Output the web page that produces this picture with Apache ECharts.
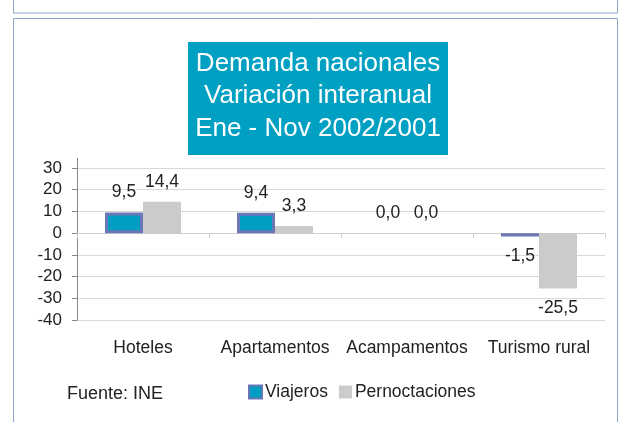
<!DOCTYPE html>
<html>
<head>
<meta charset="utf-8">
<script src="https://cdn.jsdelivr.net/npm/echarts@6/dist/echarts.min.js"></script>
<style>
  html, body { margin: 0; padding: 0; background: #fff; }
  #main { width: 625px; height: 422px; }
</style>
</head>
<body>
<div id="main"></div>
<script>
// datos del gráfico
const categorias = ['Hoteles', 'Apartamentos', 'Acampamentos', 'Turismo rural'];
const viajeros = [9.5, 9.4, 0.0, -1.5];
const pernoctaciones = [14.4, 3.3, 0.0, -25.5];
const tituloLineas = ['Demanda nacionales', 'Variación interanual', 'Ene - Nov 2002/2001'];

const FUENTE = 'Liberation Sans, Arial, sans-serif';
const fmt = v => v.toFixed(1).replace('.', ',');

// etiqueta arriba si positivo, abajo si negativo
const conEtiquetas = (arr, sinBordeEnCero) => arr.map(v => {
  const item = {
    value: v,
    label: { position: v < 0 ? 'bottom' : 'top', distance: 11 }
  };
  if (sinBordeEnCero && v === 0) item.itemStyle = { borderWidth: 0 };
  return item;
});

const chart = echarts.init(document.getElementById('main'));

const option = {
  animation: false,
  backgroundColor: '#fff',
  textStyle: { fontFamily: FUENTE },
  legend: {
    left: 243,
    top: 378,
    icon: 'rect',
    itemWidth: 13,
    itemHeight: 13,
    itemGap: 11,
    textStyle: { fontSize: 17.5, color: '#222', padding: [0, 0, 0, -2] }
  },
  grid: { left: 77, right: 20, top: 168, bottom: 102 },
  xAxis: [
    {
      type: 'category',
      data: categorias,
      axisLine: { onZero: true, lineStyle: { color: '#cfcfcf' } },
      axisTick: { show: true, length: 5, lineStyle: { color: '#cfcfcf' } },
      axisLabel: { show: false }
    },
    {
      type: 'category',
      data: categorias,
      position: 'bottom',
      axisLine: { show: false, onZero: false },
      axisTick: { show: false },
      axisLabel: { interval: 0, fontSize: 17.5, color: '#222', margin: 19 }
    }
  ],
  yAxis: {
    type: 'value',
    min: -40,
    max: 30,
    interval: 10,
    axisLine: { show: true, lineStyle: { color: '#888' } },
    axisTick: { show: true, length: 5, lineStyle: { color: '#888' } },
    axisLabel: { fontSize: 17, color: '#222', margin: 15 },
    splitLine: { lineStyle: { color: '#d9d9d9' } }
  },
  series: [
    {
      name: 'Viajeros',
      type: 'bar',
      barWidth: 38,
      barGap: '0%',
      data: conEtiquetas(viajeros, true),
      itemStyle: { color: '#009EC3', borderColor: '#6A76B5', borderWidth: 3 },
      label: { show: true, fontSize: 17.5, color: '#222', formatter: p => fmt(p.value) }
    },
    {
      name: 'Pernoctaciones',
      type: 'bar',
      barWidth: 38,
      data: conEtiquetas(pernoctaciones, false),
      itemStyle: { color: '#CBCBCB' },
      label: { show: true, fontSize: 17.5, color: '#222', formatter: p => fmt(p.value) }
    }
  ],
  graphic: [
    {
      type: 'rect',
      shape: { x: 13.5, y: -5, width: 604, height: 18 },
      style: { fill: 'none', stroke: '#8DA5CB', lineWidth: 1 },
      silent: true
    },
    {
      type: 'rect',
      shape: { x: 13.5, y: 18.5, width: 604, height: 420 },
      style: { fill: 'none', stroke: '#8DA5CB', lineWidth: 1 },
      silent: true
    },
    // prolongación del eje vertical por encima de la rejilla
    {
      type: 'line',
      shape: { x1: 77.5, y1: 158, x2: 77.5, y2: 168 },
      style: { stroke: '#888', lineWidth: 1 },
      silent: true
    },
    // recuadro del título
    {
      type: 'rect',
      shape: { x: 188, y: 42, width: 260, height: 113 },
      style: { fill: '#00A0C3' },
      silent: true
    },
    {
      type: 'text',
      x: 318,
      y: 96,
      style: {
        text: tituloLineas.join('\n'),
        fontSize: 26,
        lineHeight: 32.5,
        fill: '#fff',
        align: 'center',
        verticalAlign: 'middle',
        fontFamily: FUENTE
      }
    },
    {
      type: 'text',
      left: 67,
      top: 385,
      style: { text: 'Fuente: INE', fontSize: 18, fill: '#222', fontFamily: FUENTE }
    }
  ]
};

chart.setOption(option);
</script>
</body>
</html>
